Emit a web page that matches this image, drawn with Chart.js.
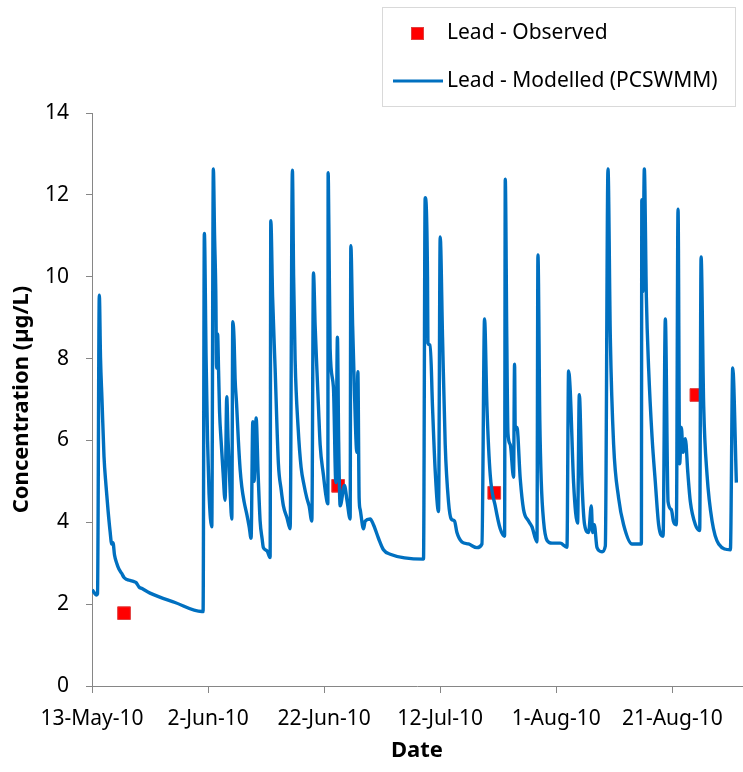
<!DOCTYPE html>
<html>
<head>
<meta charset="utf-8">
<script src="https://cdn.jsdelivr.net/npm/chart.js@4.4.1/dist/chart.umd.min.js"></script>
<style>
  html, body { margin: 0; padding: 0; background: #fff; }
</style>
</head>
<body>
<canvas id="leadChart" width="743" height="772"></canvas>
<script>
// x values are days after 13-May-10
const tickDays = [0, 20, 40, 60, 80, 100];
const tickLabels = ['13-May-10', '2-Jun-10', '22-Jun-10', '12-Jul-10', '1-Aug-10', '21-Aug-10'];

const observedDays = [5.52, 42.41, 69.31, 104.14];
const observedLead = [1.78, 4.89, 4.72, 7.11];

const modelDays = [
  0.05, 0.78, 0.95, 1.26, 1.47, 1.72, 2.07, 2.41, 2.76, 3.10, 3.40, 3.62, 3.88, 4.26, 4.66, 5.12, 5.52, 6.03, 6.55, 7.24,
  7.59, 8.10, 8.62, 10.00, 14.31, 18.91, 19.14, 19.36, 19.66, 19.91, 20.17, 20.64, 20.91, 21.12, 21.33, 21.47, 21.64, 21.81, 21.98, 22.24,
  22.59, 22.93, 23.22, 23.45, 23.79, 24.09, 24.26, 24.48, 24.66, 24.91, 25.22, 25.52, 25.81, 26.21, 26.67, 27.07, 27.41, 27.71, 27.93, 28.28,
  28.62, 28.97, 29.31, 29.53, 30.17, 30.69, 30.81, 31.12, 31.55, 32.12, 32.59, 32.98, 33.62, 34.14, 34.53, 34.74, 35.00, 35.52, 36.03, 36.55,
  37.02, 37.41, 37.88, 38.16, 38.45, 38.74, 39.02, 39.31, 39.88, 40.26, 40.64, 40.69, 40.81, 41.03, 41.60, 42.02, 42.29, 42.50, 42.76, 43.50,
  43.97, 44.48, 44.60, 44.91, 45.22, 45.64, 45.81, 46.03, 46.21, 46.78, 47.07, 47.93, 48.50, 49.36, 50.22, 51.38, 57.12, 57.41, 57.81, 57.88,
  58.28, 58.67, 59.14, 59.71, 60.00, 60.40, 60.86, 61.43, 61.90, 62.47, 62.88, 63.74, 64.88, 66.33, 67.19, 67.64, 68.05, 68.62, 69.48, 70.34,
  71.09, 71.21, 71.47, 71.67, 72.07, 72.64, 72.81, 72.93, 73.22, 73.79, 74.36, 75.22, 75.81, 76.67, 76.84, 77.16, 77.41, 77.81, 78.40, 79.26,
  80.69, 81.84, 82.12, 82.41, 82.98, 83.67, 83.97, 84.43, 84.88, 85.57, 86.03, 86.26, 86.55, 87.02, 87.88, 88.45, 88.91, 89.31, 89.88, 90.74,
  91.60, 93.05, 94.66, 94.74, 94.91, 95.17, 95.52, 95.91, 96.50, 97.07, 97.64, 98.40, 98.79, 99.26, 99.83, 100.17, 100.69, 100.98, 101.26, 101.55,
  101.84, 102.24, 102.67, 103.10, 103.97, 104.71, 104.95, 105.40, 105.98, 106.84, 107.98, 110.00, 110.40, 111.03
];
const modelLead = [
  2.35, 2.22, 2.25, 9.55, 8.0, 7.0, 5.6, 4.9, 4.3, 3.8, 3.47, 3.5, 3.2, 3.0, 2.85, 2.75, 2.65, 2.6, 2.58, 2.55,
  2.53, 2.42, 2.38, 2.27, 2.04, 1.82, 1.82, 11.06, 8.0, 6.0, 4.7, 3.89, 12.63, 11.0, 9.64, 7.77, 8.6, 7.7, 6.7, 6.0,
  5.2, 4.54, 7.07, 6.0, 4.8, 4.08, 8.9, 8.47, 7.5, 6.9, 6.0, 5.3, 4.87, 4.5, 4.2, 3.9, 3.61, 6.46, 5.0, 6.55,
  5.2, 4.03, 3.6, 3.38, 3.3, 3.14, 11.37, 9.5, 7.77, 5.43, 4.8, 4.4, 4.1, 3.84, 12.6, 10.0, 7.96, 6.3, 5.34, 4.9,
  4.59, 4.4, 4.03, 10.09, 8.8, 7.77, 6.83, 5.9, 5.15, 4.7, 4.45, 12.54, 11.28, 8.24, 7.3, 4.97, 8.52, 6.0, 4.4, 4.9,
  4.5, 4.08, 10.76, 8.8, 7.2, 5.71, 7.68, 4.59, 4.31, 3.84, 4.03, 4.08, 3.94, 3.61, 3.33, 3.22, 3.1, 11.93, 10.0, 8.38,
  8.33, 6.83, 5.25, 4.26, 10.97, 8.52, 5.9, 4.5, 4.08, 4.03, 3.75, 3.52, 3.47, 3.38, 3.47, 8.97, 6.83, 5.15, 4.4, 3.84,
  3.66, 12.38, 8.52, 6.18, 5.9, 5.1, 7.86, 6.27, 6.32, 5.06, 4.31, 4.03, 3.89, 3.52, 10.53, 6.5, 5.0, 4.03, 3.56, 3.49,
  3.49, 3.39, 7.7, 7.2, 4.97, 3.98, 7.12, 4.97, 3.94, 3.75, 4.4, 3.75, 3.94, 3.38, 3.28, 3.42, 12.63, 8.52, 5.9, 4.59,
  3.94, 3.47, 3.47, 11.88, 9.64, 12.63, 9.5, 7.77, 6.09, 4.97, 3.94, 3.66, 8.97, 4.5, 4.31, 4.03, 3.94, 11.65, 5.43, 6.32,
  5.71, 6.04, 5.2, 4.5, 3.94, 3.8, 10.48, 6.83, 5.15, 4.03, 3.47, 3.33, 7.77, 4.97
];

const FONT = 'Noto Sans';

// boxed legend in the upper right, like the Excel original
const legendBox = {
  id: 'legendBox',
  afterDraw(chart) {
    const ctx = chart.ctx;
    const model = chart.data.datasets[0];
    const observed = chart.data.datasets[1];
    ctx.save();
    ctx.strokeStyle = '#D9D9D9';
    ctx.lineWidth = 1;
    ctx.strokeRect(382.5, 7.5, 353, 99);

    ctx.fillStyle = observed.backgroundColor;
    ctx.fillRect(411, 27, 13, 13);
    ctx.strokeStyle = observed.borderColor;
    ctx.strokeRect(411.5, 27.5, 12, 12);

    ctx.strokeStyle = model.borderColor;
    ctx.lineWidth = 3;
    ctx.beginPath();
    ctx.moveTo(393, 81);
    ctx.lineTo(443, 81);
    ctx.stroke();

    ctx.fillStyle = '#000';
    ctx.font = '21px "' + FONT + '"';
    ctx.textBaseline = 'middle';
    ctx.fillText(observed.label, 447, 33);
    ctx.fillText(model.label, 447, 81);
    ctx.restore();
  }
};

const ctx = document.getElementById('leadChart').getContext('2d');
new Chart(ctx, {
  type: 'scatter',
  data: {
    datasets: [
      {
        label: 'Lead - Modelled (PCSWMM)',
        data: modelDays.map((d, i) => ({ x: d, y: modelLead[i] })),
        showLine: true,
        borderColor: '#0070C0',
        borderWidth: 3.4,
        pointRadius: 0,
        cubicInterpolationMode: 'monotone',
        order: 0
      },
      {
        label: 'Lead - Observed',
        data: observedDays.map((d, i) => ({ x: d, y: observedLead[i] })),
        pointStyle: 'rect',
        pointRadius: 9,
        backgroundColor: '#FF0000',
        borderColor: '#E04040',
        borderWidth: 1,
        order: 1
      }
    ]
  },
  options: {
    responsive: false,
    animation: false,
    layout: { autoPadding: false, padding: { top: 113, right: 1, left: 0, bottom: 0 } },
    scales: {
      x: {
        type: 'linear',
        min: 0,
        max: 112,
        afterBuildTicks: scale => { scale.ticks = tickDays.map(v => ({ value: v })); },
        afterFit: scale => {
          scale.height = 86;
          scale.paddingLeft = 0;
          scale.paddingRight = 0;
        },
        border: { color: '#868686', width: 1 },
        grid: { drawOnChartArea: false, tickLength: 7, color: '#868686' },
        ticks: {
          color: '#000',
          padding: 13,
          maxRotation: 0,
          font: { family: FONT, size: 21 },
          callback: value => tickLabels[tickDays.indexOf(value)]
        },
        title: {
          display: true,
          text: 'Date',
          color: '#000',
          padding: { top: 0, bottom: 8 },
          font: { family: FONT, size: 22, weight: 'bold' }
        }
      },
      y: {
        min: 0,
        max: 14,
        afterFit: scale => {
          scale.width = 92;
          scale.paddingTop = 0;
          scale.paddingBottom = 0;
        },
        border: { color: '#868686', width: 1 },
        grid: { drawOnChartArea: false, tickLength: 6, color: '#868686' },
        ticks: {
          stepSize: 2,
          color: '#000',
          padding: 17,
          font: { family: FONT, size: 21 }
        },
        title: {
          display: true,
          text: 'Concentration (µg/L)',
          color: '#000',
          padding: { top: 9, bottom: 0 },
          font: { family: FONT, size: 22, weight: 'bold' }
        }
      }
    },
    plugins: {
      legend: { display: false },
      tooltip: { enabled: false }
    }
  },
  plugins: [legendBox]
});
</script>
</body>
</html>
